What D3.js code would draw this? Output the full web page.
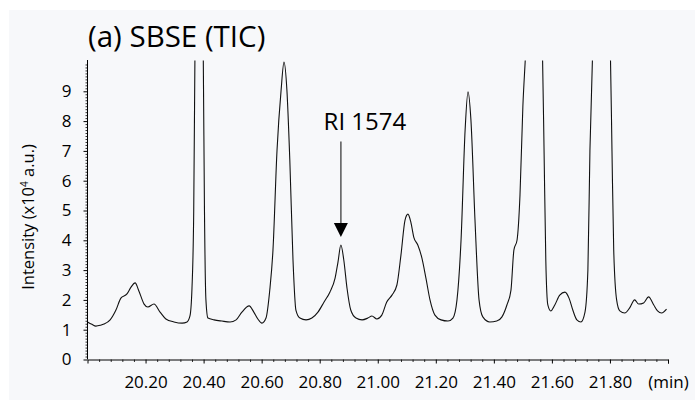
<!DOCTYPE html>
<html>
<head>
<meta charset="utf-8">
<script src="https://cdn.jsdelivr.net/npm/d3@7"></script>
<style>
  html, body { margin: 0; padding: 0; background: #ffffff; }
  svg { display: block; }
  text { font-family: "Open Sans", "Noto Sans", sans-serif; fill: #000; }
</style>
</head>
<body>
<div id="chart"></div>
<script>
// ---- data ----
const titleText = "(a) SBSE (TIC)";
const yLabelMain = "Intensity (x10";
const yLabelSup = "4";
const yLabelTail = " a.u.)";
const annotationText = "RI 1574";
const annotationTime = 20.873;
const annotationValue = 3.84;

const xTickValues = [20.2, 20.4, 20.6, 20.8, 21.0, 21.2, 21.4, 21.6, 21.8, 22.0];
const xTickLabels = ["20.20", "20.40", "20.60", "20.80", "21.00", "21.20", "21.40", "21.60", "21.80", "(min)"];
const yTickValues = [0, 1, 2, 3, 4, 5, 6, 7, 8, 9];
const yTickLabels = ["0", "1", "2", "3", "4", "5", "6", "7", "8", "9"];

const times = [20.000, 20.015, 20.029, 20.045, 20.057, 20.078, 20.098, 20.115, 20.136, 20.150,
  20.164, 20.177, 20.195, 20.208, 20.229, 20.250, 20.270, 20.298, 20.326, 20.343,
  20.353, 20.360, 20.366, 20.370, 20.377, 20.385, 20.393, 20.399, 20.403, 20.408,
  20.415, 20.436, 20.463, 20.491, 20.512, 20.532, 20.557, 20.573, 20.587, 20.601,
  20.615, 20.628, 20.639, 20.653, 20.667, 20.677, 20.687, 20.697, 20.708, 20.718,
  20.732, 20.753, 20.773, 20.794, 20.815, 20.835, 20.853, 20.863, 20.873, 20.883,
  20.894, 20.907, 20.925, 20.946, 20.966, 20.980, 20.997, 21.014, 21.031, 21.049,
  21.066, 21.080, 21.094, 21.104, 21.114, 21.124, 21.138, 21.152, 21.166, 21.180,
  21.197, 21.218, 21.242, 21.259, 21.273, 21.287, 21.301, 21.311, 21.321, 21.335,
  21.349, 21.362, 21.386, 21.410, 21.428, 21.445, 21.459, 21.469, 21.480, 21.490,
  21.500, 21.509, 21.522, 21.538, 21.554, 21.568, 21.573, 21.579, 21.586, 21.596,
  21.610, 21.627, 21.645, 21.659, 21.672, 21.686, 21.700, 21.714, 21.724, 21.731,
  21.740, 21.755, 21.771, 21.787, 21.802, 21.807, 21.813, 21.823, 21.834, 21.851,
  21.868, 21.885, 21.899, 21.916, 21.933, 21.951, 21.964, 21.978, 21.995];

const intensity = [1.26, 1.18, 1.12, 1.15, 1.19, 1.33, 1.66, 2.06, 2.20, 2.43,
  2.57, 2.30, 1.86, 1.76, 1.86, 1.59, 1.36, 1.26, 1.22, 1.26,
  1.46, 2.40, 5.00, 10.0, 13.5, 14.5, 13.5, 10.0, 5.00, 2.00,
  1.39, 1.33, 1.29, 1.26, 1.33, 1.59, 1.80, 1.59, 1.36, 1.22,
  1.39, 2.33, 3.67, 7.03, 9.04, 9.98, 9.04, 6.70, 3.34, 1.66,
  1.39, 1.33, 1.39, 1.59, 1.93, 2.26, 2.73, 3.27, 3.84, 3.34,
  2.40, 1.66, 1.39, 1.33, 1.39, 1.46, 1.36, 1.49, 1.93, 2.16,
  2.50, 3.51, 4.68, 4.88, 4.61, 4.11, 3.84, 3.41, 2.73, 2.00,
  1.49, 1.33, 1.29, 1.39, 2.00, 4.01, 7.70, 8.98, 8.04, 4.68,
  2.00, 1.43, 1.26, 1.29, 1.43, 1.83, 2.33, 3.67, 4.01, 5.50,
  8.50, 10.2, 13.0, 14.0, 13.0, 10.0, 7.00, 3.34, 1.83, 1.63,
  1.83, 2.16, 2.26, 2.06, 1.66, 1.33, 1.26, 1.59, 3.00, 7.00,
  10.2, 13.0, 14.0, 13.0, 10.0, 7.00, 3.67, 2.00, 1.63, 1.56,
  1.73, 2.00, 1.86, 1.90, 2.10, 1.83, 1.63, 1.56, 1.69];

// ---- layout ----
const W = 695, H = 400;
const svg = d3.select("#chart").append("svg").attr("width", W).attr("height", H);

svg.append("rect").attr("x", 9).attr("y", 10).attr("width", W - 9).attr("height", H - 10)
  .attr("fill", "#f7f8fa");

const x = d3.scaleLinear().domain([20.0, 22.0]).range([87.5, 668]);
const y = d3.scaleLinear().domain([0, 10]).range([359.5, 61.5]);

// clip for chromatogram
svg.append("clipPath").attr("id", "plotclip").append("rect")
  .attr("x", x(20.0)).attr("y", y(10) - 1).attr("width", x(22.0) - x(20.0)).attr("height", y(0) - y(10) + 1);

const data = times.map((t, i) => ({t, v: intensity[i]}));
const line = d3.line().x(d => x(d.t)).y(d => y(d.v)).curve(d3.curveMonotoneX);

svg.append("path").datum(data)
  .attr("clip-path", "url(#plotclip)")
  .attr("d", line)
  .attr("fill", "none")
  .attr("stroke", "#111")
  .attr("stroke-width", 1.1)
  .attr("stroke-linejoin", "round");

// ---- axes ----
// y minor ticks
const yMinor = d3.range(0, 100).map(i => i / 10).filter(v => Math.abs(v - Math.round(v)) > 1e-6);
svg.append("g").attr("transform", `translate(${x(20.0)},0)`)
  .call(d3.axisLeft(y).tickValues(yMinor).tickSize(2).tickFormat(""))
  .call(g => g.select(".domain").remove())
  .call(g => g.selectAll("line").attr("stroke", "#000").attr("stroke-width", 0.8));

const yAxis = svg.append("g").attr("transform", `translate(${x(20.0)},0)`)
  .call(d3.axisLeft(y).tickValues(yTickValues).tickSize(4).tickPadding(12)
    .tickFormat((d, i) => yTickLabels[i]));
yAxis.select(".domain").attr("d", `M0,${y(0)}V${y(10) - 1.5}`).attr("stroke", "#000").attr("stroke-width", 1);
yAxis.selectAll("line").attr("stroke", "#000");
yAxis.selectAll("text").attr("font-size", 17).attr("font-family", "Open Sans").attr("fill", "#000");

// x minor ticks
const xMinor = d3.range(0, 51).map(i => 20 + i * 0.04).filter(v => Math.abs(v * 5 - Math.round(v * 5)) > 1e-6);
svg.append("g").attr("transform", `translate(0,${y(0)})`)
  .call(d3.axisBottom(x).tickValues(xMinor).tickSize(2.5).tickFormat(""))
  .call(g => g.select(".domain").remove())
  .call(g => g.selectAll("line").attr("stroke", "#000").attr("stroke-width", 0.8));

const xAxis = svg.append("g").attr("transform", `translate(0,${y(0)})`)
  .call(d3.axisBottom(x).tickValues(xTickValues).tickSize(4).tickPadding(12)
    .tickFormat((d, i) => xTickLabels[i]));
xAxis.select(".domain").attr("stroke", "#000").attr("stroke-width", 1);
xAxis.selectAll("line").attr("stroke", "#000");
xAxis.selectAll("text").attr("font-size", 17).attr("font-family", "Open Sans").attr("fill", "#000");

// ---- y label ----
const yl = svg.append("text")
  .attr("transform", "translate(34,217) rotate(-90)")
  .attr("text-anchor", "middle")
  .attr("font-size", 16.5);
yl.append("tspan").text(yLabelMain);
yl.append("tspan").attr("font-size", 10).attr("dy", -6).text(yLabelSup);
yl.append("tspan").attr("dy", 6).text(yLabelTail);

// ---- title ----
svg.append("text").attr("x", 88).attr("y", 46.5).attr("font-size", 29.5).text(titleText);

// ---- annotation ----
const ax = x(annotationTime);
svg.append("text").attr("x", ax + 24).attr("y", 130).attr("text-anchor", "middle")
  .attr("font-size", 24).text(annotationText);
const tipY = y(annotationValue) - 8;
svg.append("line").attr("x1", ax).attr("x2", ax).attr("y1", 141.5).attr("y2", tipY - 12)
  .attr("stroke", "#555").attr("stroke-width", 1.5);
svg.append("path")
  .attr("d", `M${ax - 7},${tipY - 14}L${ax + 7},${tipY - 14}L${ax},${tipY}Z`)
  .attr("fill", "#000");
</script>
</body>
</html>
